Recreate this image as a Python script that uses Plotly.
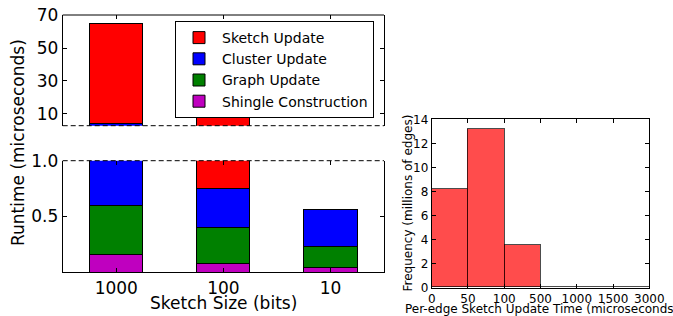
import plotly.graph_objects as go

# ---- data: left chart (stacked runtime, microseconds) ----
sketch_sizes = ["1000", "100", "10"]
shingle_construction = [0.16, 0.078, 0.04]
graph_update = [0.44, 0.322, 0.186]
cluster_update = [3.2, 0.345, 0.334]
sketch_update = [60.7, 6.65, 0.0]

# ---- data: right chart (histogram, millions of edges) ----
bin_edge_labels = ["0", "50", "100", "500", "1000", "1500", "3000"]
bin_frequency = [8.15, 13.17, 3.52, 0.0, 0.0, 0.0]

W, H = 673, 316
FONT = "DejaVu Sans"

def px_x(p):
    return p / W

def px_y(p):
    return 1 - p / H

fig = go.Figure()

series = [
    ("Shingle Construction", shingle_construction, "#bf00bf"),
    ("Graph Update", graph_update, "#008000"),
    ("Cluster Update", cluster_update, "#0000ff"),
    ("Sketch Update", sketch_update, "#ff0000"),
]
xpos = list(range(len(sketch_sizes)))

for axes, show in (("", True), ("2", False)):
    for name, vals, col in series:
        fig.add_trace(go.Bar(
            x=xpos, y=vals, name=name, width=0.5,
            marker=dict(color=col, line=dict(color="black", width=1)),
            xaxis="x" + axes, yaxis="y" + axes,
            showlegend=show, legendgroup=name,
        ))

# invisible trace to carry the top tick marks of the lower panel
fig.add_trace(go.Scatter(x=xpos, y=[0, 0, 0], mode="markers", marker=dict(opacity=0),
                         xaxis="x4", yaxis="y2", showlegend=False, hoverinfo="skip"))

# histogram bars
centers = [i + 0.5 for i in range(len(bin_frequency))]
fig.add_trace(go.Bar(
    x=centers, y=bin_frequency, width=1.0, showlegend=False,
    marker=dict(color="rgba(255,0,0,0.7)", line=dict(color="rgba(0,0,0,0.7)", width=1)),
    xaxis="x3", yaxis="y3",
))

left_dom = [px_x(62.7), px_x(384)]
top_dom = [px_y(125.7), px_y(15)]
bot_dom = [px_y(272.3), px_y(160.7)]
right_xdom = [px_x(431.7), px_x(649.3)]
right_ydom = [px_y(287.5), px_y(119.3)]

tickfont17 = dict(family=FONT, size=17, color="black")
tickfont12 = dict(family=FONT, size=12, color="black")

common_ax = dict(ticks="inside", ticklen=4, tickwidth=1, tickcolor="black",
                 showgrid=False, zeroline=False, linecolor="black", linewidth=1,
                 automargin=False, ticklabeloverflow="allow")

fig.update_layout(
    width=W, height=H, autosize=False,
    margin=dict(l=0, r=0, t=0, b=0, pad=0, autoexpand=False),
    paper_bgcolor="white", plot_bgcolor="white",
    barmode="stack", bargap=0,
    font=dict(family=FONT, color="black"),
    xaxis=dict(domain=left_dom, anchor="y", range=[-0.5, 2.5], showticklabels=False,
               tickvals=xpos, side="top", showline=False, ticks="inside", ticklen=4,
               tickcolor="black", showgrid=False, zeroline=False, automargin=False),
    yaxis=dict(domain=top_dom, anchor="x", range=[2.9, 70], tickvals=[10, 30, 50, 70],
               showline=True, mirror="ticks", tickfont=tickfont17, **common_ax),
    xaxis2=dict(domain=left_dom, anchor="y2", range=[-0.5, 2.5], tickvals=xpos,
                ticktext=sketch_sizes, showline=True, tickfont=tickfont17, **common_ax),
    xaxis4=dict(overlaying="x2", anchor="y2", side="top", range=[-0.5, 2.5], tickvals=xpos,
                showticklabels=False, showline=False, ticks="inside", ticklen=4,
                tickcolor="black", showgrid=False, zeroline=False, automargin=False),
    yaxis2=dict(domain=bot_dom, anchor="x2", range=[0, 1.0], tickvals=[0.5, 1.0],
                ticktext=["0.5", "1.0"], showline=True, mirror="ticks",
                tickfont=tickfont17, **common_ax),
    xaxis3=dict(domain=right_xdom, anchor="y3", range=[0, 6], tickvals=list(range(7)),
                ticktext=bin_edge_labels, showline=True, mirror="ticks",
                tickfont=tickfont12, **common_ax),
    yaxis3=dict(domain=right_ydom, anchor="x3", range=[0, 14], dtick=2,
                showline=True, mirror="ticks", tickfont=tickfont12, **common_ax),
    legend=dict(x=px_x(175), y=px_y(21), xanchor="left", yanchor="top",
                bordercolor="black", borderwidth=1, bgcolor="white",
                font=dict(family=FONT, size=14, color="black"),
                traceorder="reversed", itemwidth=36, tracegroupgap=0),
    showlegend=True,
)

# spines for broken axis
fig.add_shape(type="line", xref="x domain", yref="y domain", x0=0, x1=1, y0=1, y1=1,
              line=dict(color="black", width=1))
fig.add_shape(type="line", xref="x domain", yref="y domain", x0=0, x1=1, y0=0, y1=0,
              line=dict(color="black", width=1, dash="5px,3px"))
fig.add_shape(type="line", xref="x2 domain", yref="y2 domain", x0=0, x1=1, y0=1, y1=1,
              line=dict(color="black", width=1, dash="5px,3px"))

# axis titles
fig.add_annotation(text="Runtime (microseconds)", x=px_x(18), y=px_y(143), xref="paper", yref="paper",
                   textangle=-90, showarrow=False, font=dict(family=FONT, size=17, color="black"),
                   xanchor="center", yanchor="middle")
fig.add_annotation(text="Sketch Size (bits)", x=px_x(223), y=px_y(303), xref="paper", yref="paper",
                   showarrow=False, font=dict(family=FONT, size=17, color="black"),
                   xanchor="center", yanchor="middle")
fig.add_annotation(text="Frequency (millions of edges)", x=px_x(407), y=px_y(203.5), xref="paper", yref="paper",
                   textangle=-90, showarrow=False, font=dict(family=FONT, size=12, color="black"),
                   xanchor="center", yanchor="middle")
fig.add_annotation(text="Per-edge Sketch Update Time (microseconds)", x=px_x(541), y=px_y(309),
                   xref="paper", yref="paper",
                   showarrow=False, font=dict(family=FONT, size=12, color="black"),
                   xanchor="center", yanchor="middle")

fig.write_html("out.html", config={"displayModeBar": False},
               post_script="document.body.style.margin='0px';document.body.style.overflow='hidden';")
